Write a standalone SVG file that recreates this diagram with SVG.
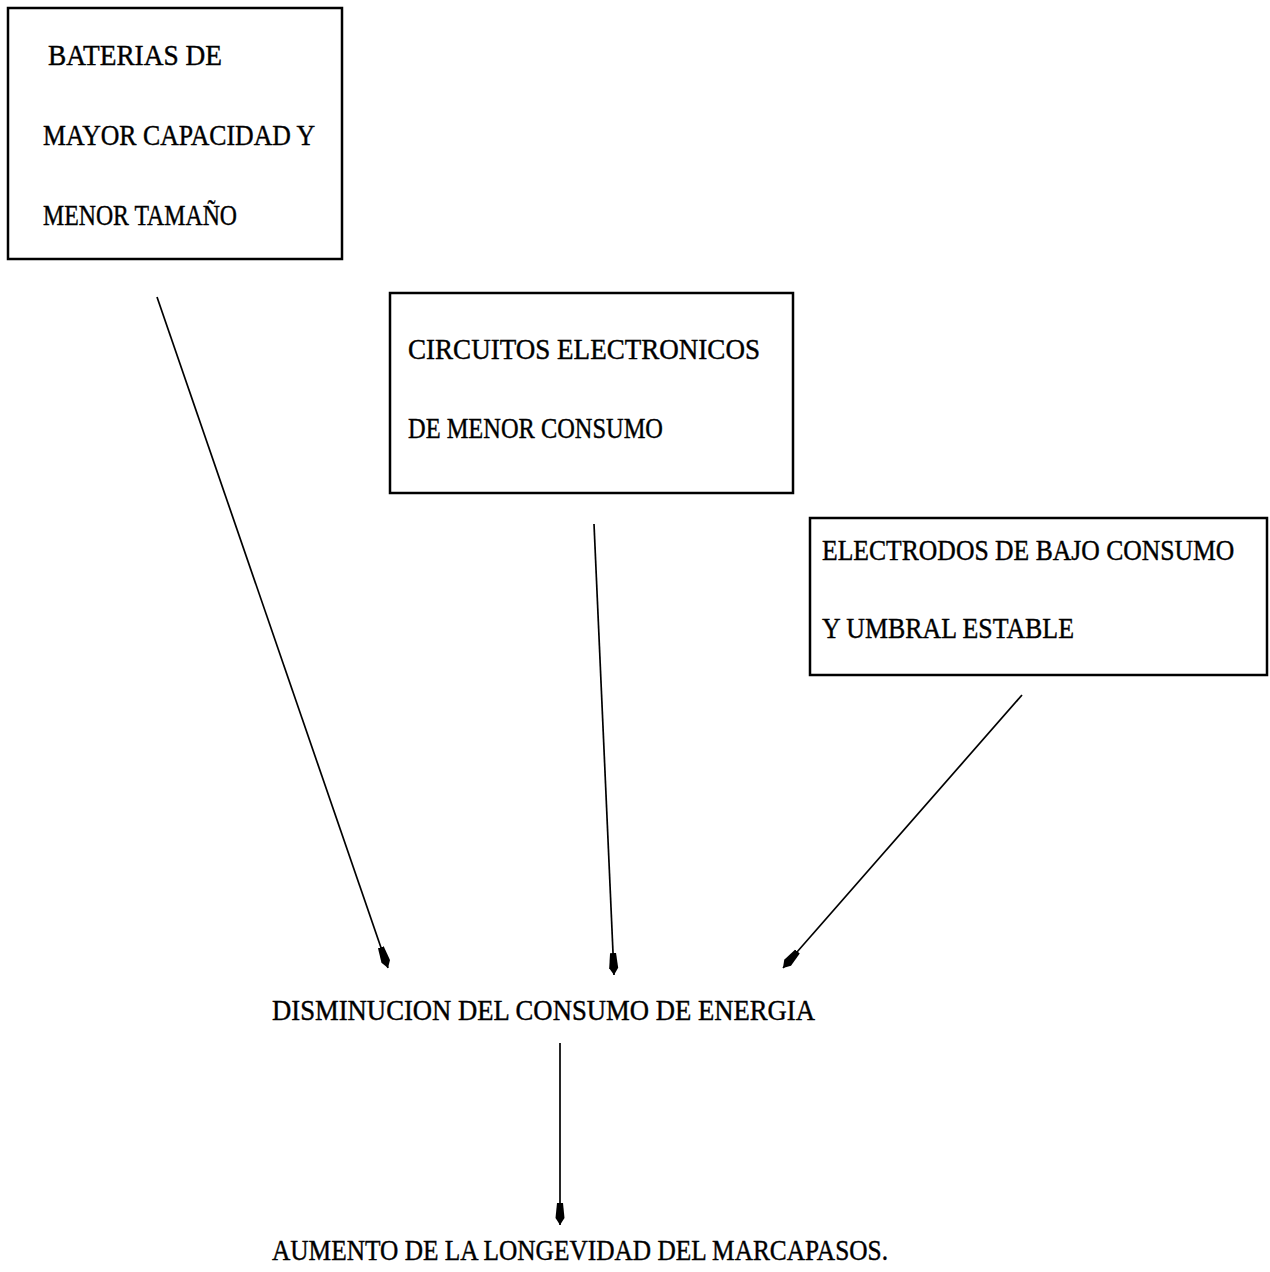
<svg xmlns="http://www.w3.org/2000/svg" width="1270" height="1272" viewBox="0 0 1270 1272">
  <style>
    .box { fill: none; stroke: #000; stroke-width: 2.5; }
    .lbl { font-family: "Liberation Serif", "DejaVu Serif", serif; font-size: 29px; fill: #000; stroke: #000; stroke-width: 0.4; }
    .edge { stroke: #000; stroke-width: 1.7; fill: none; marker-end: url(#head); }
  </style>
  <defs>
    <marker id="head" viewBox="0 0 22 10" refX="22" refY="5" markerWidth="22" markerHeight="10" markerUnits="userSpaceOnUse" orient="auto">
      <path d="M0,2 L15,0.5 L22,5 L15,9.5 L0,8 Z" fill="#000"/>
    </marker>
  </defs>
  <rect width="1270" height="1272" fill="#fff"/>

  <g id="baterias">
    <rect class="box" x="8" y="8" width="334" height="251"/>
    <text class="lbl" x="48" y="65" textLength="174" lengthAdjust="spacingAndGlyphs">BATERIAS DE</text>
    <text class="lbl" x="43" y="145" textLength="272" lengthAdjust="spacingAndGlyphs">MAYOR CAPACIDAD Y</text>
    <text class="lbl" x="43" y="225" textLength="194" lengthAdjust="spacingAndGlyphs">MENOR TAMAÑO</text>
  </g>

  <g id="circuitos">
    <rect class="box" x="390" y="293" width="403" height="200"/>
    <text class="lbl" x="408" y="359" textLength="352" lengthAdjust="spacingAndGlyphs">CIRCUITOS ELECTRONICOS</text>
    <text class="lbl" x="408" y="438" textLength="255" lengthAdjust="spacingAndGlyphs">DE MENOR CONSUMO</text>
  </g>

  <g id="electrodos">
    <rect class="box" x="810" y="518" width="457" height="157"/>
    <!-- long line squeezed horizontally so it stays inside the box -->
    <text class="lbl" transform="translate(822,560) scale(0.87,1)" x="0" y="0" textLength="474" lengthAdjust="spacingAndGlyphs">ELECTRODOS DE BAJO CONSUMO</text>
    <text class="lbl" x="822" y="638" textLength="252" lengthAdjust="spacingAndGlyphs">Y UMBRAL ESTABLE</text>
  </g>

  <g id="disminucion">
    <text class="lbl" x="272" y="1020" textLength="543" lengthAdjust="spacingAndGlyphs">DISMINUCION DEL CONSUMO DE ENERGIA</text>
  </g>

  <g id="aumento">
    <text class="lbl" x="272" y="1260" textLength="616" lengthAdjust="spacingAndGlyphs">AUMENTO DE LA LONGEVIDAD DEL MARCAPASOS.</text>
  </g>

  <g id="connectors">
    <line class="edge" x1="157" y1="297" x2="388" y2="968"/>
    <line class="edge" x1="594" y1="524" x2="614" y2="975"/>
    <line class="edge" x1="1022" y1="695" x2="783" y2="968"/>
    <line class="edge" x1="560" y1="1043" x2="560" y2="1225"/>
  </g>
</svg>
